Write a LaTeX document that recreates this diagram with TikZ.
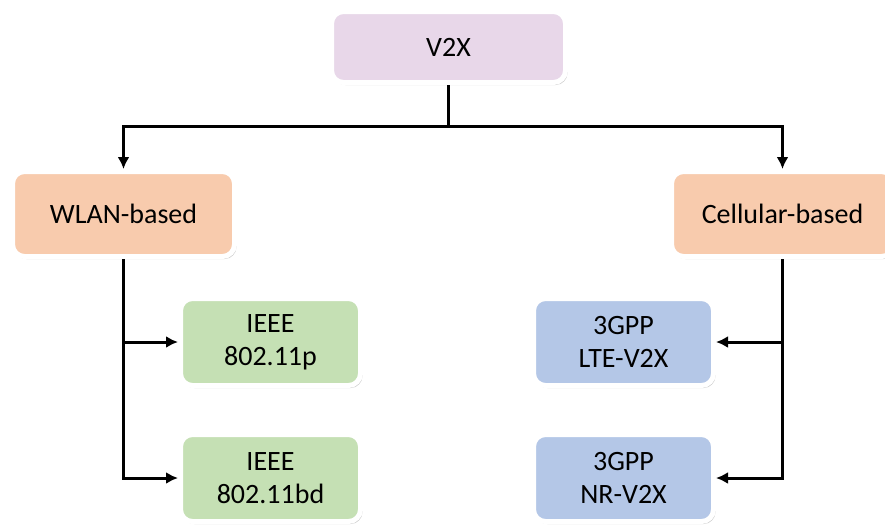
\documentclass[tikz,border=0pt]{standalone}
\usepackage{fontspec}
\setmainfont{Carlito}
\usepackage{xcolor}
\usepackage{tikz}
\usetikzlibrary{shapes.geometric, arrows, shadows}
\usetikzlibrary{arrows.meta}
\definecolor{rootpink}{RGB}{232,215,233}
\definecolor{techorange}{RGB}{248,203,173}
\definecolor{wlangreen}{RGB}{197,224,180}
\definecolor{cellblue}{RGB}{180,199,231}
\tikzstyle{box} = [rectangle, rounded corners=12pt, draw=white, line width=5pt, align=center, text centered, font=\fontsize{28}{33}\selectfont, drop shadow={opacity=0.4, shadow xshift=2pt, shadow yshift=-2.5pt}]
\tikzstyle{rootbox} = [box, fill=rootpink, minimum width=234pt, minimum height=71pt]
\tikzstyle{groupbox} = [box, fill=techorange, minimum width=222pt, minimum height=85pt]
\tikzstyle{wlanbox} = [box, fill=wlangreen, minimum width=180pt, minimum height=87pt]
\tikzstyle{cellbox} = [box, fill=cellblue, minimum width=180pt, minimum height=87pt]
\tikzstyle{plainline} = [line width=3pt]
\tikzstyle{arrow} = [line width=3pt, -{Latex[length=12pt, width=12pt]}]

\begin{document}
\begin{tikzpicture}[x=1pt, y=-1pt]
                        \useasboundingbox (0,0) rectangle (885,525);
                        \node (v2x) [rootbox] at (448.5,47) {V2X};
                        \node (wlan) [groupbox] at (123.5,214) {WLAN-based};
                        \node (cell) [groupbox] at (782.5,214) {Cellular-based};
                        \node (p11) [wlanbox] at (270.5,342) {IEEE\\802.11p};
                        \node (bd11) [wlanbox] at (270.5,478) {IEEE\\802.11bd};
                        \node (lte) [cellbox] at (623.5,342) {3GPP\\LTE-V2X};
                        \node (nr) [cellbox] at (623.5,478) {3GPP\\NR-V2X};
                        \coordinate (split) at (448.5,126);
                        \draw [plainline] (v2x.south) -- (split);
                        \draw [arrow] (split) -| (wlan.north);
                        \draw [arrow] (split) -| (cell.north);
                        \draw [arrow] (wlan.south) |- (p11.west);
                        \draw [arrow] (wlan.south) |- (bd11.west);
                        \draw [arrow] (cell.south) |- (lte.east);
                        \draw [arrow] (cell.south) |- (nr.east);
                    \end{tikzpicture}
\end{document}
